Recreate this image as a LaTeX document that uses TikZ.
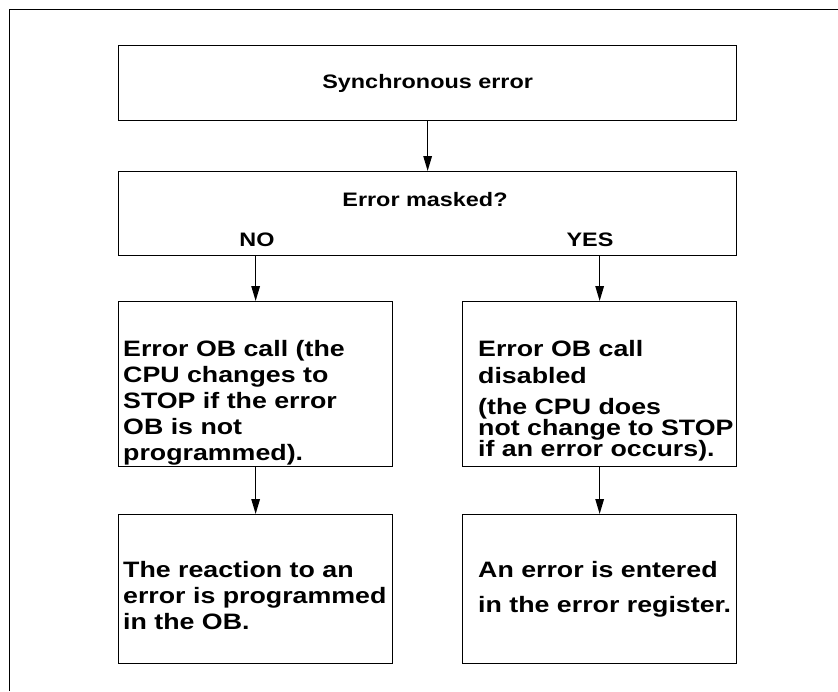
\documentclass[tikz,border=0pt]{standalone}
\usepackage{fontspec}
\usetikzlibrary{arrows.meta}
\newfontfamily\hv[FakeStretch=1.2]{Liberation Sans}
\newcommand\stk[1]{\vtop{\baselineskip=0pt\lineskiplimit=-1000pt\lineskip=0pt #1}}
\begin{document}
\begin{tikzpicture}[x=1pt,y=-1pt,
  box/.style={draw, line width=1.3pt, anchor=north west, inner sep=0pt, rectangle},
  flow/.style={line width=1.4pt, -{Triangle[length=15pt,width=8.5pt]}},
  small/.style={font=\hv\bfseries\fontsize{19.5}{22}\selectfont, inner sep=0pt},
  big/.style={font=\hv\bfseries\fontsize{22.3}{26}\selectfont, inner sep=0pt, anchor=base west}]
\useasboundingbox (0,0) rectangle (838,691);
\draw[line width=1.6pt] (9.5,691) -- (9.5,9.5) -- (838,9.5);
\node[box, minimum width=618pt, minimum height=75pt] (b1) at (118,45) {};
\node[box, minimum width=618pt, minimum height=84pt] (b2) at (118,171) {};
\node[box, minimum width=274pt, minimum height=165pt] (b3l) at (118,301) {};
\node[box, minimum width=274pt, minimum height=165pt] (b3r) at (462,301) {};
\node[box, minimum width=274pt, minimum height=149pt] (b4l) at (118,514) {};
\node[box, minimum width=274pt, minimum height=149pt] (b4r) at (462,514) {};
\node[small] (t1) at (b1.center) {Synchronous error};
\node[small, anchor=base] (t2) at (425,206.7) {Error masked?};
\node[small, anchor=base] (no) at (257,246.7) {NO};
\node[small, anchor=base] (yes) at (590,246.7) {YES};
\node[big] (t3l) at (123,356) {\stk{\hbox{Error OB call (the}\vskip26pt\hbox{CPU changes to}\vskip26pt\hbox{STOP if the error}\vskip26pt\hbox{OB is not}\vskip26pt\hbox{programmed).}}};
\node[big] (t3r) at (478,356) {\stk{\hbox{Error OB call}\vskip27pt\hbox{disabled}\vskip31pt\hbox{(the CPU does}\vskip21pt\hbox{not change to STOP}\vskip21pt\hbox{if an error occurs).}}};
\node[big] (t4l) at (123,577) {\stk{\hbox{The reaction to an}\vskip26pt\hbox{error is programmed}\vskip26pt\hbox{in the OB.}}};
\node[big] (t4r) at (478,577) {\stk{\hbox{An error is entered}\vskip35pt\hbox{in the error register.}}};
\draw[flow] (b1.south) -- (b2.north);
\draw[flow] (b3l.north |- b2.south) -- (b3l.north);
\draw[flow] (b3r.north |- b2.south) -- (b3r.north);
\draw[flow] (b3l.south) -- (b4l.north);
\draw[flow] (b3r.south) -- (b4r.north);
\end{tikzpicture}
\end{document}
